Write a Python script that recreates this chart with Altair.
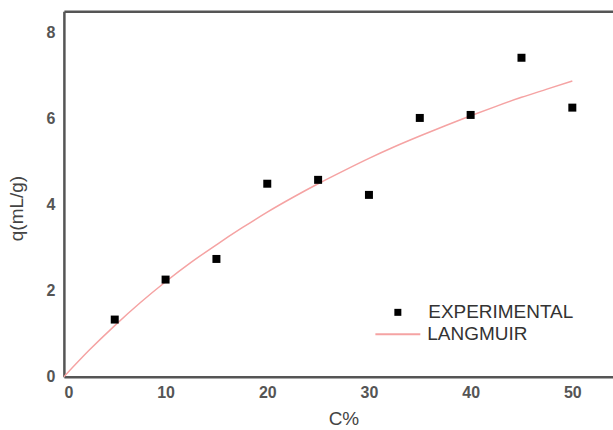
import altair as alt
import pandas as pd

conc = [5, 10, 15, 20, 25, 30, 35, 40, 45, 50]
q_exp = [1.33, 2.26, 2.74, 4.49, 4.58, 4.23, 6.02, 6.09, 7.42, 6.26]

curve_c = [0, 2.5, 5, 7.5, 10, 12.5, 15, 17.5, 20, 22.5, 25, 27.5, 30, 32.5, 35, 37.5, 40, 42.5, 45, 47.5, 50]
curve_q = [0, 0.62, 1.19, 1.72, 2.21, 2.66, 3.07, 3.46, 3.83, 4.17, 4.49, 4.79, 5.08, 5.35, 5.60, 5.84, 6.07, 6.29, 6.50, 6.69, 6.88]

df_exp = pd.DataFrame({"C": conc, "q": q_exp, "series": ["EXPERIMENTAL"] * len(conc)})
df_fit = pd.DataFrame({"C": curve_c, "q": curve_q, "series": ["LANGMUIR"] * len(curve_c)})

xscale = alt.Scale(domain=[0, 54], nice=False, zero=False)
yscale = alt.Scale(domain=[0, 8.5], nice=False)

xaxis = alt.Axis(values=[0, 10, 20, 30, 40, 50], title="C%", grid=False, ticks=False,
                 labelPadding=8, titlePadding=9, titleX=280)
xaxis_top = alt.Axis(orient="top", values=[0, 10, 20, 30, 40, 50], title=None, grid=False,
                     ticks=False, labels=False)
yaxis = alt.Axis(values=[0, 2, 4, 6, 8], title="q(mL/g)", grid=False, ticks=False,
                 labelPadding=9, titleY=197, titleX=-37)

label_font = "Liberation Sans"

line = alt.Chart(df_fit).mark_line(strokeWidth=1.5, interpolate="monotone").encode(
    x=alt.X("C:Q", scale=xscale, axis=xaxis),
    y=alt.Y("q:Q", scale=yscale, axis=yaxis),
    stroke=alt.Stroke("series:N",
                      scale=alt.Scale(domain=["LANGMUIR"], range=["#f5a3a3"]),
                      legend=alt.Legend(title=None, orient="none", legendX=311, legendY=300,
                                        symbolType="stroke", symbolSize=2025,
                                        symbolStrokeWidth=2, labelOffset=6,
                                        labelFontSize=19, labelColor="#333",
                                        labelFont=label_font)),
)

points = alt.Chart(df_exp).mark_point(shape="square", filled=True, size=64, opacity=1).encode(
    x=alt.X("C:Q", scale=xscale, axis=xaxis_top),
    y=alt.Y("q:Q", scale=yscale, axis=yaxis),
    color=alt.Color("series:N",
                    scale=alt.Scale(domain=["EXPERIMENTAL"], range=["#000000"]),
                    legend=alt.Legend(title=None, orient="none", legendX=325, legendY=292,
                                      symbolType="square", symbolSize=49,
                                      symbolStrokeWidth=0, symbolFillColor="#000000",
                                      labelOffset=21, labelFontSize=19, labelColor="#333",
                                      labelFont=label_font)),
)

chart = alt.layer(line, points).resolve_scale(
    color="independent", stroke="independent"
).resolve_axis(x="independent").properties(
    width=550, height=366,
    autosize=alt.AutoSizeParams(type="none"),
    padding={"left": 64, "top": 11, "right": 0, "bottom": 53},
    background="white",
).configure_view(
    stroke=None
).configure_axis(
    domain=True, domainColor="#555555", domainWidth=2.5,
    labelFont=label_font, labelFontSize=16, labelColor="#555555", labelFontWeight="bold",
    titleFont=label_font, titleFontSize=19, titleColor="#444444", titleFontWeight="normal",
)

chart.save("out.html", embed_options={"renderer": "svg", "actions": False})
